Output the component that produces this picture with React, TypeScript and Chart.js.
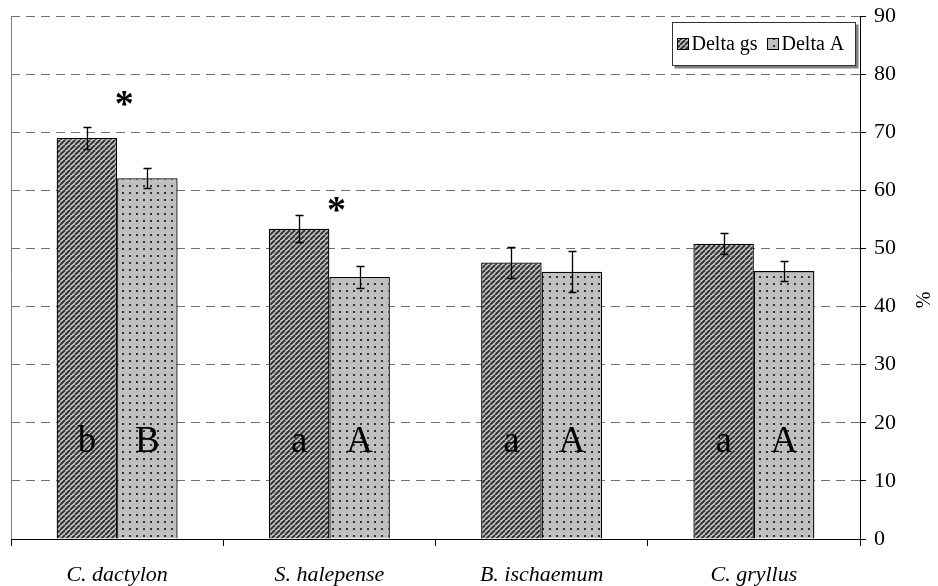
import React, { useEffect, useRef } from "react";
import { Chart, registerables } from "chart.js";

Chart.register(...registerables);

const categories = ["C. dactylon", "S. halepense", "B. ischaemum", "C. gryllus"];
const seriesNames = ["Delta gs", "Delta A"];
const deltaGs = [69.0, 53.4, 47.6, 50.8];
const deltaA = [62.1, 45.1, 46.0, 46.1];
const errGs = [1.95, 2.35, 2.6, 1.8];
const errA = [1.7, 1.9, 3.5, 1.75];
const lettersGs = ["b", "a", "a", "a"];
const lettersA = ["B", "A", "A", "A"];
const letterBaseline = 15;
const asteriskLevels: (number | null)[] = [75.8, 57.7, null, null];
const yMin = 0;
const yMax = 90;
const yStep = 10;
const yTitle = "%";

const SERIF = '"Liberation Serif", "Times New Roman", serif';

function makeHatch(): CanvasPattern | string {
  const c = document.createElement("canvas");
  const s = 5;
  c.width = s;
  c.height = s;
  const g = c.getContext("2d");
  if (!g) return "#909090";
  g.fillStyle = "#c8c8c8";
  g.fillRect(0, 0, s, s);
  g.strokeStyle = "#333333";
  g.lineWidth = 2;
  for (let k = -1; k <= 1; k++) {
    g.beginPath();
    g.moveTo(k * s, s);
    g.lineTo(k * s + s, 0);
    g.stroke();
  }
  const p = g.createPattern(c, "repeat");
  return p || "#909090";
}

function makeDots(): CanvasPattern | string {
  const c = document.createElement("canvas");
  const s = 7;
  c.width = s;
  c.height = s;
  const g = c.getContext("2d");
  if (!g) return "#c0c0c0";
  g.fillStyle = "#c0c0c0";
  g.fillRect(0, 0, s, s);
  g.fillStyle = "#333333";
  g.fillRect(3, 3, 2, 2);
  const p = g.createPattern(c, "repeat");
  return p || "#c0c0c0";
}

const annotatePlugin = {
  id: "annotate",
  beforeDatasetsDraw(chart: any) {
    const { ctx, chartArea } = chart;
    ctx.save();
    ctx.strokeStyle = "#808080";
    ctx.lineWidth = 1;
    ctx.beginPath();
    ctx.moveTo(Math.round(chartArea.left) + 0.5, chartArea.top);
    ctx.lineTo(Math.round(chartArea.left) + 0.5, chartArea.bottom);
    ctx.stroke();
    ctx.restore();
  },
  afterDatasetsDraw(chart: any) {
    const { ctx } = chart;
    const ys = chart.scales.y;
    const xs = chart.scales.x;
    const errs = [errGs, errA];
    const letters = [lettersGs, lettersA];
    ctx.save();
    chart.data.datasets.forEach((ds: any, di: number) => {
      const meta = chart.getDatasetMeta(di);
      meta.data.forEach((bar: any, i: number) => {
        const v = ds.data[i];
        const e = errs[di][i];
        const yt = Math.round(ys.getPixelForValue(v + e)) + 0.5;
        const yb = Math.round(ys.getPixelForValue(v - e)) + 0.5;
        const x = Math.round(bar.x) + 0.5;
        ctx.strokeStyle = "#000";
        ctx.lineWidth = 1.3;
        ctx.beginPath();
        ctx.moveTo(x, yt);
        ctx.lineTo(x, yb);
        ctx.moveTo(x - 4, yt);
        ctx.lineTo(x + 4, yt);
        ctx.moveTo(x - 4, yb);
        ctx.lineTo(x + 4, yb);
        ctx.stroke();
        ctx.fillStyle = "#000";
        ctx.font = `37px ${SERIF}`;
        ctx.textAlign = "center";
        ctx.textBaseline = "alphabetic";
        ctx.fillText(letters[di][i], bar.x, ys.getPixelForValue(letterBaseline));
      });
    });
    asteriskLevels.forEach((lv, i) => {
      if (lv === null) return;
      const size = 38;
      ctx.font = `bold ${size}px ${SERIF}`;
      ctx.textAlign = "center";
      ctx.textBaseline = "alphabetic";
      ctx.fillStyle = "#000";
      const cy = ys.getPixelForValue(lv);
      ctx.fillText("*", xs.getPixelForValue(i) + 7, cy + 0.47 * size);
    });
    ctx.restore();
  },
  afterDraw(chart: any) {
    const { ctx } = chart;
    ctx.save();
    // legend frame
    const lx = 672.5, ly = 22.5, lw = 183, lh = 43;
    ctx.fillStyle = "#808080";
    ctx.fillRect(lx + 2, ly + 2, lw + 1, lh + 1);
    ctx.fillStyle = "#fff";
    ctx.fillRect(lx, ly, lw, lh);
    ctx.strokeStyle = "#333";
    ctx.lineWidth = 1;
    ctx.strokeRect(lx, ly, lw, lh);
    const cy = ly + lh / 2;
    const items = chart.data.datasets.map((d: any) => ({ label: d.label, fill: d.backgroundColor }));
    const starts = [677.5, 767.5];
    items.forEach((it: any, k: number) => {
      const bx = starts[k];
      ctx.fillStyle = it.fill;
      ctx.fillRect(bx, cy - 5.5, 11, 11);
      ctx.strokeStyle = "#000";
      ctx.strokeRect(bx, cy - 5.5, 11, 11);
      ctx.fillStyle = "#000";
      ctx.font = `20px ${SERIF}`;
      ctx.textAlign = "left";
      ctx.textBaseline = "middle";
      ctx.fillText(it.label, bx + 14, cy + 1);
    });
    // y title
    ctx.translate(925, 300);
    ctx.rotate(-Math.PI / 2);
    ctx.font = `20px ${SERIF}`;
    ctx.textAlign = "center";
    ctx.textBaseline = "middle";
    ctx.fillStyle = "#000";
    ctx.fillText(yTitle, 0, 0);
    ctx.restore();
  },
};

export default function App() {
  const ref = useRef<HTMLCanvasElement | null>(null);
  useEffect(() => {
    if (!ref.current) return;
    const chart = new Chart(ref.current, {
      type: "bar",
      data: {
        labels: categories,
        datasets: [
          {
            label: seriesNames[0],
            data: deltaGs,
            backgroundColor: makeHatch() as any,
            borderColor: "#000",
            borderWidth: 1.3,
            categoryPercentage: 0.57,
            barPercentage: 1,
          },
          {
            label: seriesNames[1],
            data: deltaA,
            backgroundColor: makeDots() as any,
            borderColor: "#000",
            borderWidth: 1.3,
            categoryPercentage: 0.57,
            barPercentage: 1,
          },
        ],
      },
      options: {
        responsive: false,
        animation: false,
        devicePixelRatio: 1,
        layout: { padding: { left: 11, top: 16, right: 0, bottom: 0 } },
        plugins: {
          legend: { display: false },
          tooltip: { enabled: false },
          title: { display: false },
        },
        scales: {
          x: {
            type: "category",
            offset: true,
            grid: {
              offset: true,
              drawOnChartArea: false,
              drawTicks: true,
              tickLength: 7,
              tickColor: "#000",
              color: "#000",
            },
            border: { display: true, color: "#000", width: 1 },
            ticks: {
              color: "#000",
              font: { family: SERIF, size: 22, style: "italic" },
              padding: 16,
              maxRotation: 0,
              autoSkip: false,
            },
            afterFit(scale: any) {
              scale.height = 47;
              scale.paddingLeft = 0;
              scale.paddingRight = 0;
            },
          },
          y: {
            position: "right",
            min: yMin,
            max: yMax,
            grid: {
              color: "#707070",
              lineWidth: 1,
              drawTicks: true,
              tickLength: 6,
              tickColor: "#000",
              tickBorderDash: [],
              borderDash: [9, 6],
            } as any,
            border: { display: true, color: "#000", width: 1, dash: [9, 6] },
            ticks: {
              stepSize: yStep,
              color: "#000",
              font: { family: SERIF, size: 22 },
              padding: 8,
            },
            afterFit(scale: any) {
              scale.width = 78;
              scale.paddingTop = 0;
              scale.paddingBottom = 0;
            },
          },
        },
      } as any,
      plugins: [annotatePlugin],
    });
    return () => chart.destroy();
  }, []);
  return (
    <div style={{ position: "fixed", left: 0, top: 0, width: 938, height: 586, background: "#fff" }}>
      <canvas ref={ref} width={938} height={586} style={{ display: "block" }} />
    </div>
  );
}
